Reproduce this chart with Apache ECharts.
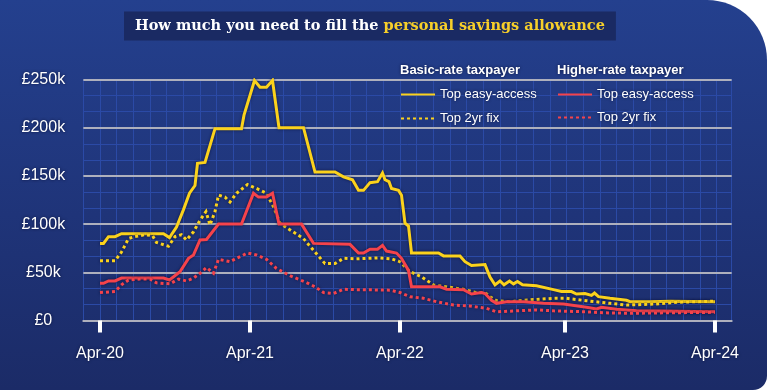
<!DOCTYPE html>
<html>
<head>
<meta charset="utf-8">
<script src="https://cdn.jsdelivr.net/npm/echarts@6/dist/echarts.min.js"></script>
<style>
  html, body { margin: 0; padding: 0; background: #ffffff; }
  #chart {
    width: 767px; height: 390px;
    background: linear-gradient(180deg, #24408e 0%, #1f3479 55%, #1b2b67 100%);
    border-radius: 0 60px 14px 0;
    overflow: hidden;
  }
</style>
</head>
<body>
<div id="chart"></div>
<script>
// Period index: Apr-20 = 0 ... Apr-24 = 123 ; values in £ thousands
const tickPositions = [0, 30, 60, 93, 123];
const tickLabels = ['Apr-20', 'Apr-21', 'Apr-22', 'Apr-23', 'Apr-24'];
const yTicks = [0, 50, 100, 150, 200, 250];

const basicEasy = [[0,80],[0.7,80],[1.7,87],[3,87],[4.3,90],[12.7,90],[13.9,86],[15.3,97],[16.7,115],[17.9,132],[19,140],[19.5,163],[21,164],[23,199],[28.3,199],[28.8,213],[30.9,249],[32,242],[33.3,242],[34.5,249],[35.8,200],[40.7,200],[43,154],[47,154],[48.7,149],[50.5,146],[51.7,135],[52.7,135],[54,143],[55.5,144],[56.5,153],[57,146],[57.8,144],[58.3,137],[59.7,135],[60.3,130],[61,101],[61.7,98],[62.3,70],[67.7,70],[68.7,67],[72,67],[73,61],[74.3,57],[77,58],[78,45],[79,37],[80,41],[80.8,37],[81.9,41],[82.7,38],[83.5,40.5],[84.5,37],[87.3,36],[90.7,32],[92.3,30],[94.3,30],[95.3,27.5],[97,28],[98.3,26],[98.9,28.5],[99.7,24.7],[102,23],[105.3,21],[106,19.5],[110,19.5],[114,20],[123,19.5]];

const basicFix = [[0,62],[3,62],[4.3,71],[5.7,85],[7,87],[9,89],[10.5,88],[11.3,81],[13.7,77],[15,87],[16.3,89],[17.3,83.5],[18.7,92],[20,104],[21.2,113],[22,99],[23,113],[23.7,130],[25,128],[26,123],[27.3,132],[29.5,141],[31.3,137],[33.3,132],[34.7,118],[36,101],[38,94],[40.7,85],[43,71],[45,59],[47,59],[48.7,64.5],[51.3,64],[55.7,65],[58.3,64],[60,61],[62,50.6],[64.3,45.4],[66.7,36.8],[70,34.4],[72.7,32.4],[75.3,28.8],[77,29],[78,24.7],[79.3,20.5],[82,19.5],[84.7,21],[90.7,23],[93.3,23],[97.3,20.5],[102,17.8],[105.3,16],[110.7,17],[115.3,18.9],[123,20]];

const higherEasy = [[0,38.6],[0.7,38.6],[1.7,41],[3,41],[4.3,44],[12.7,44],[13.9,42],[16,50.6],[17.7,64.5],[18.7,68],[20,83.5],[21.3,84],[23.7,100],[28.3,100],[30.7,132],[31.7,128],[33.3,128],[34.5,132],[35.8,100],[40.3,100],[42.7,80],[50,79],[51.7,70],[52.7,70],[54,74],[55.5,74],[56.5,78],[57.3,72],[59.3,70],[60.3,64.5],[61.7,52],[62.3,35],[68,35],[69.3,32.4],[72.7,32],[74.3,27.5],[76.3,29],[77,28],[78.3,21],[79.3,17.8],[81.3,19.5],[84.7,19.5],[88.7,17.8],[92.7,17],[97.3,13.7],[99.3,12],[100.3,13.7],[103.3,11.6],[107.3,10],[123,9]];

const higherFix = [[0,29],[3,30],[4.3,37],[5.7,42],[8,43],[10,43],[11.3,39],[14,38],[15.7,43],[17.3,41],[18.7,44],[20,49],[21.3,55],[22.7,49],[23.7,63.5],[26,61],[27.3,64.5],[29.5,70],[31.3,68],[33.3,63.5],[35.3,54],[38,46.5],[41,40],[43,35],[44.7,29],[46.7,28],[48.7,32.4],[51.3,32],[58,31.5],[60,29],[62,24.7],[64.7,23],[67.3,19.5],[70.7,16],[74,15],[77.3,12.6],[79.3,9],[82,9.7],[87.3,11],[90.7,10],[97.3,9],[100.7,8],[106,7.5],[114,8],[123,8.5]];

const YELLOW = '#fbd21c';
const RED = '#f5434b';
const GRID_BLUE = '#2b4aa6';
const GREY = '#aeb0bd';
const FONT = '"Liberation Sans", Arial, Helvetica, sans-serif';
const shadow = { textShadowColor: 'rgba(5,10,40,0.75)', textShadowBlur: 3 };

const chart = echarts.init(document.getElementById('chart'), null, { renderer: 'canvas' });

function lineSeries(name, data, color, dotted) {
  return {
    name: name, type: 'line', data: data, symbol: 'none', smooth: false,
    xAxisIndex: 0, yAxisIndex: 0,
    lineStyle: {
      color: color, width: 3, type: dotted ? [3, 3] : 'solid', cap: 'butt', join: 'miter',
      shadowColor: 'rgba(5,10,45,0.7)', shadowBlur: 3
    },
    itemStyle: { color: color },
    emphasis: { disabled: true },
    animation: false
  };
}

const legendCommon = {
  orient: 'vertical', itemWidth: 34, itemHeight: 14, itemGap: 10, padding: 0,
  selectedMode: false,
  itemStyle: { opacity: 0, borderWidth: 0 },
  lineStyle: { shadowBlur: 0 },
  textStyle: { color: '#ffffff', fontSize: 13, fontFamily: FONT, ...shadow },
  formatter: function (n) { return n.split(': ')[1]; }
};

chart.setOption({
  animation: false,
  title: {
    left: 124, top: 11,
    backgroundColor: '#1a2a63',
    padding: [7, 11, 7, 11],
    text: '{w|How much you need to fill the }{y|personal savings allowance}',
    textStyle: {
      rich: {
        w: { color: '#ffffff', fontSize: 14.5, fontWeight: 'bold', fontFamily: '"DejaVu Serif", serif', lineHeight: 16 },
        y: { color: '#f7cf2a', fontSize: 14.5, fontWeight: 'bold', fontFamily: '"DejaVu Serif", serif', lineHeight: 16 }
      }
    }
  },
  grid: { left: 83.33, right: 35.33, top: 79.5, bottom: 69.5, containLabel: false },
  legend: [
    Object.assign({}, legendCommon, { left: 400, top: 88, itemGap: 11, data: ['Basic: Top easy-access', 'Basic: Top 2yr fix'] }),
    Object.assign({}, legendCommon, { left: 557, top: 88, itemGap: 10, data: ['Higher: Top easy-access', 'Higher: Top 2yr fix'] })
  ],
  graphic: [
    { type: 'text', left: 400, top: 64, style: { text: 'Basic-rate taxpayer', fill: '#fff', font: 'bold 13px ' + FONT, ...shadow } },
    { type: 'text', left: 557, top: 64, style: { text: 'Higher-rate taxpayer', fill: '#fff', font: 'bold 13px ' + FONT, ...shadow } }
  ],
  xAxis: [
    {
      type: 'value', min: -10 / 3, max: 379 / 3,
      position: 'bottom',
      splitLine: { show: false },
      axisLine: { show: true, lineStyle: { color: GREY, width: 2 } },
      axisTick: { show: true, customValues: tickPositions, length: 12, lineStyle: { color: '#ffffff', width: 4 } },
      axisLabel: {
        customValues: tickPositions, margin: 25,
        color: '#ffffff', fontSize: 16, fontFamily: FONT, ...shadow,
        formatter: function (v) { const i = tickPositions.indexOf(Math.round(v)); return i >= 0 ? tickLabels[i] : ''; }
      }
    },
    {
      type: 'value', min: -10 / 3, max: 379 / 3, interval: 10 / 3,
      position: 'bottom', z: -1,
      axisLine: { show: false }, axisTick: { show: false }, axisLabel: { show: false },
      splitLine: { show: true, lineStyle: { color: GRID_BLUE, width: 1 } }
    }
  ],
  yAxis: {
    type: 'value', min: 0, max: 250, interval: 50,
    axisLine: { show: false }, axisTick: { show: false },
    axisLabel: {
      margin: 40, align: 'center',
      color: '#ffffff', fontSize: 16, fontFamily: FONT, ...shadow,
      formatter: function (v) { return v === 0 ? '£0' : '£' + v + 'k'; }
    },
    splitLine: { show: true, lineStyle: { color: GREY, width: 2 } },
    minorTick: { show: false, splitNumber: 3 },
    minorSplitLine: { show: true, lineStyle: { color: GRID_BLUE, width: 1 } }
  },
  series: [
    lineSeries('Basic: Top easy-access', basicEasy, YELLOW, false),
    lineSeries('Basic: Top 2yr fix', basicFix, YELLOW, true),
    lineSeries('Higher: Top easy-access', higherEasy, RED, false),
    lineSeries('Higher: Top 2yr fix', higherFix, RED, true)
  ]
});
</script>
</body>
</html>
